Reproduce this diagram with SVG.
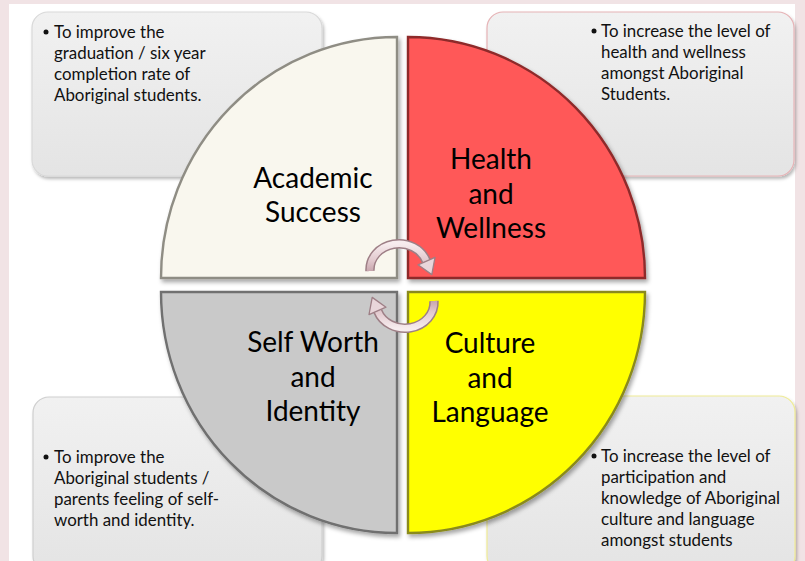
<svg xmlns="http://www.w3.org/2000/svg" width="805" height="561" viewBox="0 0 805 561">
<defs>
  <filter id="shadow" x="-10%" y="-10%" width="130%" height="130%">
    <feDropShadow dx="2" dy="3" stdDeviation="2" flood-color="#000" flood-opacity="0.35"/>
  </filter>
  <filter id="soft" x="-10%" y="-10%" width="130%" height="130%">
    <feDropShadow dx="1.5" dy="2.5" stdDeviation="1.8" flood-color="#000" flood-opacity="0.28"/>
  </filter>
  <linearGradient id="boxg" x1="0" y1="0" x2="0" y2="1">
    <stop offset="0" stop-color="#F1F1F1"/>
    <stop offset="1" stop-color="#E4E4E4"/>
  </linearGradient>
  <linearGradient id="arrg" x1="0" y1="0" x2="0" y2="1">
    <stop offset="0" stop-color="#F7ECEE"/>
    <stop offset="0.6" stop-color="#E2C9CE"/>
    <stop offset="1" stop-color="#C9A7AE"/>
  </linearGradient>
  <style>
    .box { fill: url(#boxg); stroke-width: 1.2; filter: url(#soft); }
    .btxt { font-family: Lato, "Open Sans", "DejaVu Sans", sans-serif; font-size: 16.9px; fill: #111; }
    .lbl { font-family: Lato, "Open Sans", "DejaVu Sans", sans-serif; font-size: 28px; fill: #000; text-anchor: middle; }
    .pie { stroke-width: 2.4; filter: url(#shadow); }
    .arrOut { fill: none; stroke: #9E7F86; stroke-width: 9.5; }
    .arrIn { fill: none; stroke: url(#arrg); stroke-width: 6.5; }
    .head { fill: #E9D6DA; stroke: #9E7F86; stroke-width: 1.3; stroke-linejoin: round; }
  </style>
</defs>

<!-- background -->
<rect x="0" y="0" width="805" height="561" fill="#F1E3E5"/>
<rect x="9" y="4" width="786" height="557" fill="#FFFFFF"/>

<!-- boxes -->
<g id="box-academic">
  <rect class="box" x="32" y="12" width="290" height="164" rx="16" stroke="#D9D9D9"/>
  <circle cx="46" cy="32" r="2.5" fill="#111"/>
  <text class="btxt" x="54" y="38">To improve the</text>
  <text class="btxt" x="54" y="59">graduation / six year</text>
  <text class="btxt" x="54" y="80">completion rate of</text>
  <text class="btxt" x="54" y="101">Aboriginal students.</text>
</g>
<g id="box-health">
  <rect class="box" x="487" y="12" width="307" height="164" rx="16" stroke="#E6B3B6"/>
  <circle cx="594" cy="31" r="2.5" fill="#111"/>
  <text class="btxt" x="601" y="37">To increase the level of</text>
  <text class="btxt" x="601" y="58">health and wellness</text>
  <text class="btxt" x="601" y="79">amongst Aboriginal</text>
  <text class="btxt" x="601" y="100">Students.</text>
</g>
<g id="box-selfworth">
  <rect class="box" x="33" y="397" width="289" height="175" rx="16" stroke="#CFCFCF"/>
  <circle cx="46" cy="457" r="2.5" fill="#111"/>
  <text class="btxt" x="54" y="463">To improve the</text>
  <text class="btxt" x="54" y="484">Aboriginal students /</text>
  <text class="btxt" x="54" y="505">parents feeling of self-</text>
  <text class="btxt" x="54" y="526">worth and identity.</text>
</g>
<g id="box-culture">
  <rect class="box" x="487" y="396" width="308" height="176" rx="16" stroke="#F0EC96"/>
  <circle cx="594" cy="456" r="2.5" fill="#111"/>
  <text class="btxt" x="601" y="462">To increase the level of</text>
  <text class="btxt" x="601" y="483">participation and</text>
  <text class="btxt" x="601" y="504">knowledge of Aboriginal</text>
  <text class="btxt" x="601" y="525">culture and language</text>
  <text class="btxt" x="601" y="546">amongst students</text>
</g>

<!-- pie quadrants -->
<g id="node-academic">
  <path class="pie" d="M397,278 L397,37 A236,241 0 0 0 161,278 Z" fill="#F9F7EE" stroke="#8F8D84"/>
  <text class="lbl" x="313" y="188">Academic</text>
  <text class="lbl" x="313" y="222">Success</text>
</g>
<g id="node-health">
  <path class="pie" d="M408,278 L408,37 A237,241 0 0 1 645,278 Z" fill="#FF5859" stroke="#8E2A2A"/>
  <text class="lbl" x="491" y="169">Health</text>
  <text class="lbl" x="491" y="204">and</text>
  <text class="lbl" x="491" y="238">Wellness</text>
</g>
<g id="node-selfworth">
  <path class="pie" d="M397,292 L161,292 A236,241 0 0 0 397,533 Z" fill="#C9C9C9" stroke="#6F6F6F"/>
  <text class="lbl" x="313" y="352">Self Worth</text>
  <text class="lbl" x="313" y="387">and</text>
  <text class="lbl" x="313" y="421">Identity</text>
</g>
<g id="node-culture">
  <path class="pie" d="M408,292 L645,292 A237,241 0 0 1 408,533 Z" fill="#FFFF00" stroke="#8A8A1E"/>
  <text class="lbl" x="490" y="353">Culture</text>
  <text class="lbl" x="490" y="388">and</text>
  <text class="lbl" x="490" y="422">Language</text>
</g>

<!-- connectors: circular arrows -->
<g id="connectors">
  <g id="arrow-top">
    <path class="arrOut" d="M370,271 A29,26 0 0 1 426.3,261.1"/>
    <path class="arrIn" d="M370,271 A29,26 0 0 1 426.3,261.1"/>
    <polygon class="head" points="435,257.4 431.8,274.6 418,264.8"/>
  </g>
  <g id="arrow-bottom" transform="rotate(180 402 286)">
    <path class="arrOut" d="M370,271 A29,26 0 0 1 426.3,261.1"/>
    <path class="arrIn" d="M370,271 A29,26 0 0 1 426.3,261.1"/>
    <polygon class="head" points="435,257.4 431.8,274.6 418,264.8"/>
  </g>
</g>
</svg>
